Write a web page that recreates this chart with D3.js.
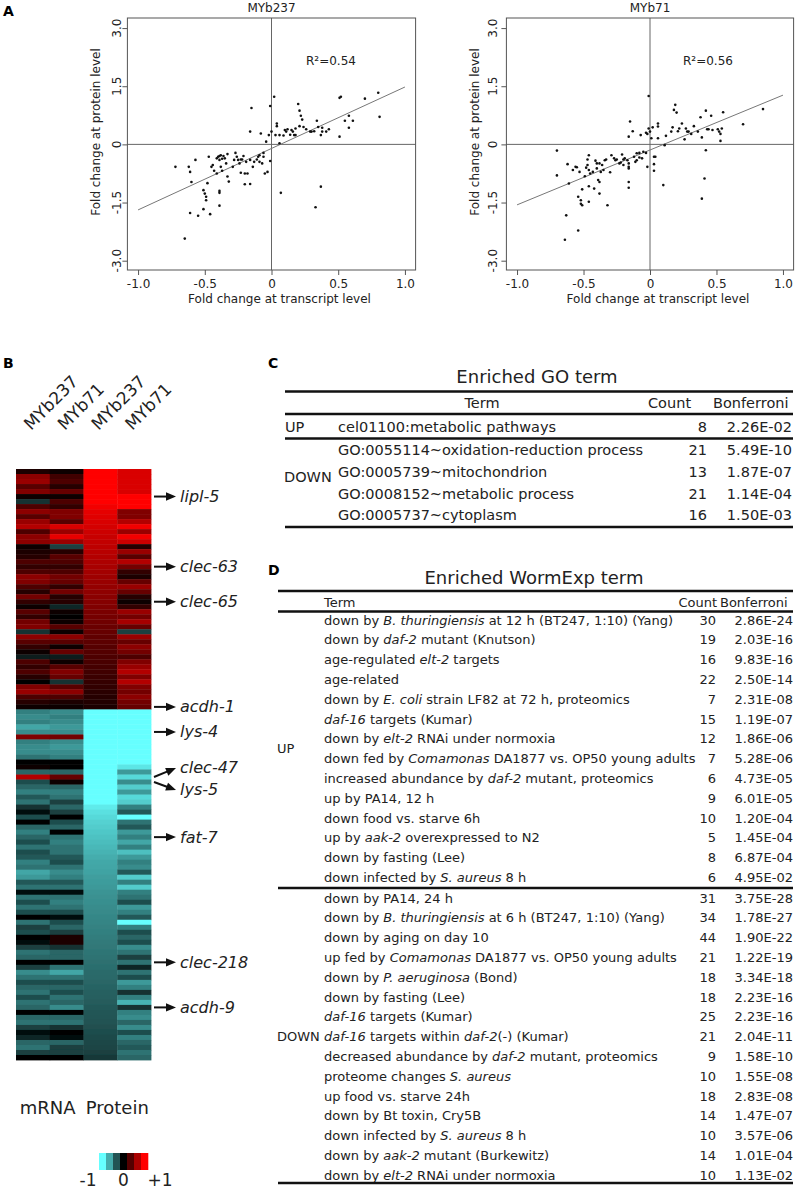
<!DOCTYPE html>
<html><head><meta charset="utf-8">
<script src="https://cdn.jsdelivr.net/npm/d3@7"></script>
<style>body{margin:0;background:#fff}svg{display:block}</style>
</head><body>
<script>
// ---------------- DATA ----------------
const xTicks = [-1.0, -0.5, 0, 0.5, 1.0];
const xTickLabels = ["-1.0", "-0.5", "0", "0.5", "1.0"];
const yTicks = [-3, -1.5, 0, 1.5, 3];
const yTickLabels = ["-3.0", "-1.5", "0", "1.5", "3.0"];
const strains = ["MYb237", "MYb71"];
const rSquared = ["0.54", "0.56"];
const fitSlope = [1.585, 1.415];
const fitIntercept = [-0.105, -0.145];

const myb237Points = [[-0.72,-0.58],[-0.62,-0.58],[-0.61,-0.71],[-0.60,-0.97],[-0.57,-0.40],[-0.61,-1.77],[-0.55,-1.84],[-0.65,-2.43],[-0.51,-1.67],[-0.46,-1.80],
[-0.51,-1.18],[-0.50,-1.27],[-0.49,-1.35],[-0.49,-1.44],[-0.48,-1.00],[-0.47,-0.32],[-0.45,-0.58],[-0.44,-0.53],[-0.43,-0.68],[-0.41,-0.75],
[-0.39,-1.20],[-0.39,-1.25],[-0.39,-1.58],[-0.41,-0.36],[-0.40,-0.32],[-0.39,-0.30],[-0.38,-0.28],[-0.36,-0.30],[-0.39,-0.40],[-0.37,-0.37],
[-0.35,-0.36],[-0.33,-0.25],[-0.38,-0.58],[-0.37,-0.68],[-0.34,-0.49],[-0.33,-0.83],[-0.32,-0.96],[-0.29,-0.58],[-0.28,-0.40],[-0.26,-0.32],
[-0.27,-0.22],[-0.25,-0.40],[-0.24,-0.49],[-0.23,-0.39],[-0.23,-0.73],[-0.22,-0.39],[-0.21,-0.30],[-0.20,-0.75],[-0.20,-1.03],[-0.19,-0.45],
[-0.18,-0.75],[-0.16,-0.40],[-0.16,-1.02],[-0.16,0.33],[-0.15,0.94],[-0.14,-0.58],[-0.13,-0.45],[-0.11,-0.39],[-0.10,-0.32],[-0.09,-0.45],
[-0.09,-0.28],[-0.08,0.28],[-0.07,-0.49],[-0.06,-0.22],[-0.06,-0.32],[-0.05,-0.75],[-0.04,0.07],[-0.03,-0.71],[-0.02,0.24],[-0.01,0.99],
[-0.01,-0.43],[0.00,0.33],[0.02,1.23],[0.03,0.24],[0.04,0.54],[0.04,0.47],[0.06,0.03],[0.06,0.24],[0.07,-1.25],[0.09,0.23],
[0.10,0.37],[0.11,0.33],[0.12,0.39],[0.14,0.25],[0.15,0.37],[0.16,0.33],[0.17,0.24],[0.18,0.41],[0.18,0.24],[0.20,1.04],
[0.21,0.47],[0.21,0.87],[0.22,0.74],[0.23,0.64],[0.24,0.45],[0.26,0.39],[0.29,0.33],[0.30,0.33],[0.32,0.34],[0.33,-1.62],
[0.34,0.61],[0.35,0.45],[0.37,-1.09],[0.37,0.24],[0.38,0.33],[0.38,0.43],[0.41,0.33],[0.43,0.39],[0.51,1.20],[0.52,1.23],
[0.51,0.20],[0.55,0.61],[0.58,0.43],[0.58,0.74],[0.61,0.61],[0.70,1.18],[0.80,1.33],[0.81,0.71]];

const myb71Points = [[-0.70,-0.16],[-0.70,-0.80],[-0.63,-1.83],[-0.64,-2.46],[-0.54,-2.22],[-0.62,-0.51],[-0.61,-1.01],[-0.58,-0.66],[-0.56,-0.58],[-0.55,-0.59],
[-0.53,-0.71],[-0.54,-1.35],[-0.52,-1.44],[-0.52,-1.53],[-0.51,-1.57],[-0.51,-1.16],[-0.49,-0.82],[-0.48,-0.60],[-0.47,-0.53],[-0.47,-0.39],
[-0.46,-0.66],[-0.46,-0.28],[-0.46,-1.08],[-0.46,-1.48],[-0.45,-0.75],[-0.43,-0.71],[-0.42,-1.14],[-0.41,-0.42],[-0.40,-0.49],[-0.40,-0.62],
[-0.39,-0.92],[-0.38,-0.97],[-0.38,-0.49],[-0.38,-1.27],[-0.37,-0.71],[-0.36,-0.53],[-0.35,-0.66],[-0.34,-0.41],[-0.33,-0.39],[-0.32,-1.57],
[-0.30,-0.72],[-0.29,-0.28],[-0.27,-0.36],[-0.26,-0.41],[-0.25,-0.39],[-0.23,-0.49],[-0.22,-0.47],[-0.21,-0.26],[-0.20,-0.39],[-0.20,-0.53],
[-0.19,-0.36],[-0.17,-0.41],[-0.16,-0.49],[-0.16,-0.58],[-0.16,-0.62],[-0.16,-0.97],[-0.16,-1.12],[-0.16,0.20],[-0.15,0.59],[-0.13,0.34],
[-0.12,-0.32],[-0.11,-0.45],[-0.10,-0.23],[-0.10,-0.41],[-0.08,-0.34],[-0.08,-0.22],[-0.07,0.24],[-0.06,-0.36],[-0.05,-0.19],[-0.03,-0.22],
[-0.03,0.30],[-0.02,0.27],[-0.02,-0.58],[-0.01,1.25],[-0.01,0.41],[0.00,0.33],[0.01,0.16],[0.02,0.44],[0.03,-0.32],[0.03,-0.51],
[0.03,-0.68],[0.04,-0.32],[0.06,0.54],[0.06,0.46],[0.06,0.16],[0.10,-1.05],[0.11,-0.02],[0.12,0.22],[0.16,0.33],[0.17,0.44],
[0.18,0.89],[0.19,1.02],[0.20,0.82],[0.21,0.34],[0.22,0.41],[0.24,0.54],[0.26,0.13],[0.27,0.41],[0.28,0.33],[0.29,0.33],
[0.31,0.27],[0.33,0.47],[0.36,0.33],[0.38,0.70],[0.39,0.18],[0.39,-1.40],[0.41,-0.88],[0.42,0.87],[0.42,-0.15],[0.43,0.39],
[0.44,0.39],[0.46,0.74],[0.47,0.37],[0.51,0.39],[0.52,0.33],[0.53,0.27],[0.53,0.09],[0.54,0.41],[0.55,0.83],[0.70,0.52],[0.85,0.91]];

// Heatmap (B): 48 up-regulated rows then 70 down-regulated rows
const heatColumnLabels = ["MYb237", "MYb71", "MYb237", "MYb71"];
const heatGroupLabels = ["mRNA", "Protein"];
const upMrnaMYb237 = [0.1,0.55,0.6,0.35,0.5,0.05,-0.2,0.3,0.55,0.35,0.6,0.7,0.3,0.55,0.55,0.05,0.1,0.15,0.3,0.2,0.3,0.55,0.5,0.3,0.15,0.45,0.2,0.05,0.35,0.2,0.45,0.5,-0.2,0.55,0.35,0.2,0.05,-0.1,0.3,0.2,0.3,0.15,0,0.5,0.6,0.3,0.15,0.05];
const downMrnaMYb237 = [-0.5,-0.55,-0.5,-0.65,-0.55,0.5,-0.5,-0.55,-0.55,-0.45,0,0.05,-0.4,0.7,-0.3,-0.4,-0.5,-0.35,-0.45,-0.2,-0.05,-0.3,0,-0.4,-0.5,-0.4,-0.3,-0.45,-0.3,-0.35,-0.5,-0.45,-0.65,-0.6,-0.35,-0.45,-0.05,-0.45,-0.3,-0.45,-0.3,0,-0.45,-0.25,-0.3,0,-0.05,-0.25,-0.45,-0.4,0,-0.25,-0.55,-0.45,-0.3,-0.4,-0.45,-0.3,-0.45,-0.4,0,-0.4,-0.45,-0.25,-0.05,-0.15,-0.4,-0.45,-0.25,0];
const upMrnaMYb71 = [0.05,0.25,0.3,0.15,0.4,0.05,0.3,0.2,0.5,0.5,0.35,0.85,0.6,0.9,0.6,-0.25,0.15,0.35,0.3,0.2,0.3,0.45,0.4,0.2,0.45,0.15,0.15,-0.15,0.05,0.02,0.05,0.35,0.05,0.55,0.35,0.05,0.4,-0.1,0.05,0.35,0.5,0.4,-0.2,0.35,0.55,0.3,0.1,0.05];
const downMrnaMYb71 = [-0.55,-0.5,-0.55,-0.6,-0.55,0.45,-0.55,-0.6,-0.55,-0.5,0,0,-0.4,0.4,0.05,-0.4,-0.5,-0.45,-0.25,-0.4,-0.25,0,-0.3,-0.4,0,-0.45,-0.5,-0.45,-0.45,-0.35,-0.3,-0.45,-0.55,-0.5,-0.35,-0.45,-0.05,-0.45,-0.5,-0.45,-0.3,-0.05,-0.3,-0.4,-0.25,0.1,0.12,-0.2,-0.4,-0.4,0,-0.45,-0.65,-0.45,-0.3,-0.4,-0.3,-0.45,-0.4,-0.55,0,-0.4,-0.45,-0.2,0,-0.05,-0.4,-0.25,-0.25,0];
const upProtMYb237 = [1,1,1,1,1,1,1,0.95,0.9,0.88,0.85,0.83,0.8,0.78,0.76,0.74,0.72,0.7,0.68,0.66,0.64,0.62,0.6,0.58,0.56,0.54,0.52,0.5,0.48,0.46,0.44,0.42,0.4,0.38,0.36,0.34,0.32,0.3,0.29,0.27,0.25,0.23,0.21,0.19,0.17,0.15,0.13,0.1];
const downProtMYb237 = [-1,-1,-1,-1,-1,-1,-1,-1,-1,-1,-1,-1,-1,-1,-1,-1,-1,-1,-1,-0.92,-0.88,-0.85,-0.82,-0.8,-0.78,-0.76,-0.74,-0.72,-0.7,-0.68,-0.66,-0.65,-0.64,-0.62,-0.61,-0.6,-0.58,-0.57,-0.56,-0.55,-0.54,-0.53,-0.52,-0.51,-0.5,-0.49,-0.48,-0.47,-0.46,-0.45,-0.44,-0.43,-0.42,-0.41,-0.4,-0.39,-0.38,-0.37,-0.36,-0.35,-0.34,-0.33,-0.32,-0.31,-0.3,-0.29,-0.28,-0.27,-0.25,-0.22];
const upProtMYb71 = [0.85,0.85,0.85,0.85,0.85,1,1,1,0.5,0.5,0.7,0.95,0.6,0.95,0.8,0.15,0.6,0.35,0.7,0.45,0.2,0.1,0.4,0.6,0.4,0.15,0.05,0.2,0.6,0.45,0.65,0.4,-0.25,0.6,0.4,0.55,0.45,0.3,0.5,0.6,0.7,0.5,0.7,0.5,0.45,0.55,0.45,0.4];
const downProtMYb71 = [-1,-1,-1,-1,-1,-1,-1,-1,-1,-1,-1,-0.9,-0.6,-0.85,-0.55,-0.8,-0.6,-0.85,-0.8,-0.5,-0.35,-1,-0.45,-0.35,-0.6,-0.5,-0.65,-0.5,-0.75,-0.6,-0.5,-0.55,-0.35,-0.8,-0.5,-0.8,-0.5,-0.45,-0.3,-0.6,-0.5,-0.35,-1,-0.5,-0.3,-0.4,-0.3,-0.55,-0.45,-0.25,-0.45,-0.15,-0.45,-0.3,-0.6,-0.5,-0.2,-0.5,-0.7,-0.2,-0.5,-0.55,-0.4,-0.55,-0.3,-0.5,-0.4,-0.35,-0.45,-0.4];
const geneNames = ["lipl-5","clec-63","clec-65","acdh-1","lys-4","clec-47","lys-5","fat-7","clec-218","acdh-9"];
const geneRows = [5, 19, 26, 47, 52, 61, 62, 73, 98, 107];
const legendValues = [-1, -0.67, -0.33, 0, 0.33, 0.67, 1];
const legendLabels = ["-1", "0", "+1"];

// GO table (C)
const goTitle = "Enriched GO term";
const goGroup = ["UP", "DOWN", "DOWN", "DOWN", "DOWN"];
const goTerms = ["cel01100:metabolic pathways","GO:0055114~oxidation-reduction process","GO:0005739~mitochondrion","GO:0008152~metabolic process","GO:0005737~cytoplasm"];
const goCounts = [8, 21, 13, 21, 16];
const goBonferroni = ["2.26E-02","5.49E-10","1.87E-07","1.14E-04","1.50E-03"];

// WormExp table (D)  (*...* = italic)
const wormTitle = "Enriched WormExp term";
const wormUpTerms = ["down by *B. thuringiensis* at 12 h (BT247, 1:10) (Yang)","down by *daf-2* mutant (Knutson)","age-regulated *elt-2* targets","age-related","down by *E. coli* strain LF82 at 72 h, proteomics","*daf-16* targets (Kumar)","down by *elt-2* RNAi under normoxia","down fed by *Comamonas* DA1877 vs. OP50 young adults","increased abundance by *daf-2* mutant, proteomics","up by PA14, 12 h","down food vs. starve 6h","up by *aak-2* overexpressed to N2","down by fasting (Lee)","down infected by *S. aureus* 8 h"];
const wormUpCounts = [30,19,16,22,7,15,12,7,6,9,10,5,8,6];
const wormUpBonferroni = ["2.86E-24","2.03E-16","9.83E-16","2.50E-14","2.31E-08","1.19E-07","1.86E-06","5.28E-06","4.73E-05","6.01E-05","1.20E-04","1.45E-04","6.87E-04","4.95E-02"];
const wormDownTerms = ["down by PA14, 24 h","down by *B. thuringiensis* at 6 h (BT247, 1:10) (Yang)","down by aging on day 10","up fed by *Comamonas* DA1877 vs. OP50 young adults","down by *P. aeruginosa* (Bond)","down by fasting (Lee)","*daf-16* targets (Kumar)","*daf-16* targets within *daf-2*(-) (Kumar)","decreased abundance by *daf-2* mutant, proteomics","proteome changes *S. aureus*","up food vs. starve 24h","down by Bt toxin, Cry5B","down infected by *S. aureus* 8 h","down by *aak-2* mutant (Burkewitz)","down by *elt-2* RNAi under normoxia"];
const wormDownCounts = [31,34,44,21,18,18,25,21,9,10,18,14,10,14,10];
const wormDownBonferroni = ["3.75E-28","1.78E-27","1.90E-22","1.22E-19","3.34E-18","2.23E-16","2.23E-16","2.04E-11","1.58E-10","1.55E-08","2.83E-08","1.47E-07","3.57E-06","1.01E-04","1.13E-02"];

// ---------------- DRAWING ----------------
const FONT = "'DejaVu Sans', 'Liberation Sans', sans-serif";
const INK = "#222";
const svg = d3.select("body").append("svg").attr("width", 795).attr("height", 1189)
  .attr("font-family", FONT);

function label(g, x, y, s, size, o = {}) {
  const t = g.append("text").attr("x", x).attr("y", y).attr("font-size", size).attr("fill", o.fill || INK)
    .attr("text-anchor", o.anchor || "start");
  if (o.weight) t.attr("font-weight", o.weight);
  if (o.style) t.attr("font-style", o.style);
  s.split("*").forEach((part, i) => { if (part) t.append("tspan").attr("font-style", i % 2 ? "italic" : null).text(part); });
  return t;
}

// panel letters
[["A", 3, 16], ["B", 3, 368], ["C", 268, 368], ["D", 268, 575]].forEach(d => label(svg, d[1], d[2], d[0], 14, { weight: "bold", fill: "#000" }));

// ---------- Panel A: scatter plots ----------
const panelBoxes = [{ L: 127.4, R: 415.6, yTickX: 121, yTitleX: 100, r2X: 306 },
                    { L: 506.4, R: 793.6, yTickX: 497, yTitleX: 479, r2X: 683 }];
const pointSets = [myb237Points, myb71Points];
const TOP = 18, BOT = 270;
strains.forEach((name, k) => {
  const p = panelBoxes[k];
  const g = svg.append("g");
  const x = d3.scaleLinear().domain([-1.08, 1.08]).range([p.L, p.R]);
  const y = d3.scaleLinear().domain([-3.24, 3.26]).range([BOT, TOP]);
  g.append("line").attr("x1", x(0)).attr("x2", x(0)).attr("y1", TOP).attr("y2", BOT).attr("stroke", "#666").attr("stroke-width", 1);
  g.append("line").attr("x1", p.L).attr("x2", p.R).attr("y1", y(0)).attr("y2", y(0)).attr("stroke", "#666").attr("stroke-width", 1);
  g.append("line").attr("x1", x(-1)).attr("y1", y(fitIntercept[k] - fitSlope[k]))
    .attr("x2", x(1)).attr("y2", y(fitIntercept[k] + fitSlope[k])).attr("stroke", "#777").attr("stroke-width", 1);
  g.append("rect").attr("x", p.L).attr("y", TOP).attr("width", p.R - p.L).attr("height", BOT - TOP)
    .attr("fill", "none").attr("stroke", "#555").attr("stroke-width", 1);
  g.selectAll("circle").data(pointSets[k]).join("circle")
    .attr("cx", d => x(d[0])).attr("cy", d => y(d[1])).attr("r", 1.3).attr("fill", "#111");
  const xa = g.append("g").attr("transform", `translate(0,${BOT})`)
    .call(d3.axisBottom(x).tickValues(xTicks).tickFormat((d, i) => xTickLabels[i]).tickSize(5).tickPadding(4.5));
  xa.select(".domain").remove();
  xa.selectAll("line").attr("stroke", "#555");
  xa.selectAll("text").attr("font-size", 12).attr("font-family", FONT).attr("fill", INK);
  const ya = g.append("g").attr("transform", `translate(${p.L},0)`)
    .call(d3.axisLeft(y).tickValues(yTicks).tickSize(5).tickFormat(""));
  ya.select(".domain").remove();
  ya.selectAll("line").attr("stroke", "#555");
  g.selectAll(".ytl").data(yTicks).join("text").attr("class", "ytl")
    .attr("transform", d => `translate(${p.yTickX},${y(d)}) rotate(-90)`)
    .attr("text-anchor", "middle").attr("font-size", 12).attr("fill", INK)
    .text((d, i) => yTickLabels[i]);
  label(g, (p.L + p.R) / 2, 12, name, 12, { anchor: "middle" });
  label(g, (p.L + p.R) / 2 + 8, 303, "Fold change at transcript level", 12, { anchor: "middle" });
  g.append("text").attr("transform", `translate(${p.yTitleX},132) rotate(-90)`).attr("text-anchor", "middle")
    .attr("font-size", 12).attr("fill", INK).text("Fold change at protein level");
  label(g, p.r2X, 65, "R\u00B2=" + rSquared[k], 12);
});

// ---------- Panel B: heatmap ----------
const heatCols = [upMrnaMYb237.concat(downMrnaMYb237), upMrnaMYb71.concat(downMrnaMYb71),
                  upProtMYb237.concat(downProtMYb237), upProtMYb71.concat(downProtMYb71)];
const nRows = heatCols[0].length;
const color = d3.scaleLinear().domain([-1, 0, 1]).range(["#66ffff", "#000000", "#ff0000"]).clamp(true);
const hx = d3.scaleBand().domain(d3.range(4)).range([16, 151]);
const hy = d3.scaleBand().domain(d3.range(nRows)).range([469, 1060]);
const defs = svg.append("defs");
defs.append("filter").attr("id", "soft").attr("x", "-2%").attr("y", "-2%").attr("width", "104%").attr("height", "104%")
  .append("feGaussianBlur").attr("stdDeviation", 0.6);
const hg = svg.append("g").attr("filter", "url(#soft)");
heatCols.forEach((col, c) => {
  hg.selectAll(null).data(col).join("rect")
    .attr("x", hx(c)).attr("width", hx.bandwidth() + 0.4)
    .attr("y", (d, i) => hy(i)).attr("height", hy.bandwidth() + 0.4)
    .attr("fill", d => color(d));
});
heatColumnLabels.forEach((s, c) => {
  svg.append("text").attr("transform", `translate(${hx(c) + hx.bandwidth() / 2 - 2},431) rotate(-45)`)
    .attr("font-size", 17).attr("fill", INK).text(s);
});
label(svg, (hx(0) + hx(1) + hx.bandwidth()) / 2 - 2, 1114, heatGroupLabels[0], 18, { anchor: "middle" });
label(svg, (hx(2) + hx(3) + hx.bandwidth()) / 2, 1114, heatGroupLabels[1], 18, { anchor: "middle" });

function arrow(x0, y0, x1, y1) {
  const a = Math.atan2(y1 - y0, x1 - x0), L = 10, w = 4.2;
  const bx = x1 - L * Math.cos(a), by = y1 - L * Math.sin(a);
  svg.append("line").attr("x1", x0).attr("y1", y0).attr("x2", bx + Math.cos(a)).attr("y2", by + Math.sin(a))
    .attr("stroke", "#111").attr("stroke-width", 2);
  svg.append("path").attr("d", `M${x1},${y1}L${bx - w * Math.sin(a)},${by + w * Math.cos(a)}L${bx + w * Math.sin(a)},${by - w * Math.cos(a)}Z`)
    .attr("fill", "#111");
}
const geneNudge = { "clec-47": { tip: -9, text: -10 }, "lys-5": { tip: 8, text: 7 } };
geneNames.forEach((gname, i) => {
  const yc = hy(geneRows[i]) + hy.bandwidth() / 2;
  const n = geneNudge[gname] || { tip: 0, text: 0 };
  arrow(154, yc, 176, yc + n.tip);
  label(svg, 180, yc + n.text + 5.5, gname, 16, { style: "italic" });
});
const lx = d3.scaleBand().domain(d3.range(legendValues.length)).range([99, 148]);
svg.selectAll(".leg").data(legendValues).join("rect").attr("class", "leg")
  .attr("x", (d, i) => lx(i)).attr("width", lx.bandwidth() + 0.3).attr("y", 1153).attr("height", 17)
  .attr("fill", d => color(d));
[88, 123.5, 160].forEach((xx, i) => label(svg, xx, 1186, legendLabels[i], 17, { anchor: "middle" }));

// ---------- Panel C: GO table ----------
function hline(x1, x2, y, w) {
  svg.append("line").attr("x1", x1).attr("x2", x2).attr("y1", y).attr("y2", y).attr("stroke", "#111").attr("stroke-width", w);
}
label(svg, 537, 383, goTitle, 18, { anchor: "middle" });
hline(285, 793, 391.5, 2.6);
label(svg, 482, 408, "Term", 14.5, { anchor: "middle" });
label(svg, 648, 408, "Count", 14.5);
label(svg, 713, 408, "Bonferroni", 14.5);
hline(285, 793, 414, 2.6);
const goY = [427, 450, 471.7, 493.3, 515];
goTerms.forEach((t, i) => {
  const yb = goY[i] + 5.2;
  label(svg, 338, yb, t, 14.5);
  label(svg, 707, yb, String(goCounts[i]), 14.5, { anchor: "end" });
  label(svg, 792, yb, goBonferroni[i], 14.5, { anchor: "end" });
});
label(svg, 285, goY[0] + 5.2, goGroup[0], 14.5);
label(svg, 284, 482, goGroup[1], 14.5);
hline(285, 793, 438.5, 2.6);
hline(285, 793, 527, 2.6);

// ---------- Panel D: WormExp table ----------
label(svg, 534, 583.5, wormTitle, 18, { anchor: "middle" });
hline(278, 793, 591, 2.6);
label(svg, 324, 607, "Term", 13);
label(svg, 717, 607, "Count", 13, { anchor: "end" });
label(svg, 720, 607, "Bonferroni", 13);
hline(278, 793, 611.5, 2.6);
const rowStep = 19.78;
function wormRows(terms, counts, bonf, y0, group) {
  terms.forEach((t, i) => {
    const yb = y0 + i * rowStep + 4.7;
    label(svg, 324, yb, t, 13);
    label(svg, 716, yb, String(counts[i]), 13, { anchor: "end" });
    label(svg, 793, yb, bonf[i], 13, { anchor: "end" });
  });
  label(svg, 277, y0 + (terms.length - 1) * rowStep / 2 + 4.7, group, 13);
}
wormRows(wormUpTerms, wormUpCounts, wormUpBonferroni, 620, "UP");
hline(278, 793, 888, 2.6);
wormRows(wormDownTerms, wormDownCounts, wormDownBonferroni, 898, "DOWN");
hline(278, 793, 1183, 2.6);
</script>
</body></html>
